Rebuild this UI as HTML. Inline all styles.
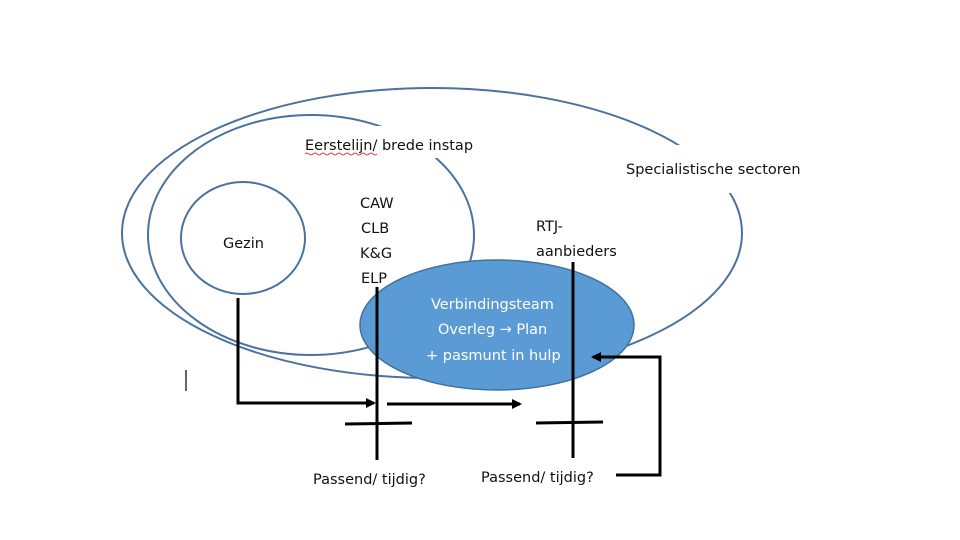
<!DOCTYPE html>
<html><head><meta charset="utf-8"><style>
html,body{margin:0;padding:0;background:#fff;width:960px;height:540px;overflow:hidden}
svg{display:block}
text{font-family:"DejaVu Sans","Liberation Sans",sans-serif;font-size:14.5px;fill:#111}
</style></head><body>
<svg width="960" height="540" viewBox="0 0 960 540" xmlns="http://www.w3.org/2000/svg">
<defs>
<marker id="ah" markerWidth="10" markerHeight="10" refX="8" refY="5" orient="auto" markerUnits="userSpaceOnUse">
<path d="M0,0 L10,5 L0,10 Z" fill="#000"/></marker>
</defs>
<g fill="none" stroke="#4a72a0" stroke-width="2">
<ellipse cx="432" cy="233" rx="310" ry="145"/>
<ellipse cx="311" cy="235" rx="163" ry="120"/>
<ellipse cx="243" cy="238" rx="62" ry="56"/>
</g>
<rect x="300" y="126" width="190" height="32" fill="#fff"/>
<rect x="620" y="145" width="200" height="48" fill="#fff"/>
<ellipse cx="497" cy="325" rx="137" ry="65" fill="#5b9bd5" stroke="#41719c" stroke-width="1.5"/>
<text x="305" y="150">Eerstelijn/ brede instap</text>
<path d="M305,154 q2,-2 4,0 t4,0 t4,0 t4,0 t4,0 t4,0 t4,0 t4,0 t4,0 t4,0 t4,0 t4,0 t4,0 t4,0 t4,0 t4,0 t4,0 t4,0" fill="none" stroke="#d00" stroke-width="0.8"/>
<text x="626" y="174">Specialistische sectoren</text>
<text x="223" y="248">Gezin</text>
<text x="360" y="208">CAW</text>
<text x="361" y="233">CLB</text>
<text x="360" y="258">K&amp;G</text>
<text x="361" y="283">ELP</text>
<text x="536" y="231">RTJ-</text>
<text x="536" y="256">aanbieders</text>
<g style="fill:#fff">
<text x="431" y="309" style="fill:#fff">Verbindingsteam</text>
<text x="438" y="334" style="fill:#fff">Overleg → Plan</text>
<text x="426" y="360" style="fill:#fff">+ pasmunt in hulp</text>
</g>
<text x="313" y="484">Passend/ tijdig?</text>
<text x="481" y="482">Passend/ tijdig?</text>
<g stroke="#000" stroke-width="3" fill="none">
<polyline points="238,298 238,403 374,403" marker-end="url(#ah)"/>
<line x1="387" y1="404" x2="520" y2="404" marker-end="url(#ah)"/>
<line x1="377" y1="287" x2="377" y2="460"/>
<line x1="345" y1="424" x2="412" y2="423"/>
<line x1="573" y1="262" x2="573" y2="458"/>
<line x1="536" y1="423" x2="603" y2="422"/>
<polyline points="616,475 660,475 660,357 593,357" marker-end="url(#ah)"/>
</g>
<line x1="186" y1="370" x2="186" y2="391" stroke="#000" stroke-width="1.2"/>
</svg>
</body></html>
